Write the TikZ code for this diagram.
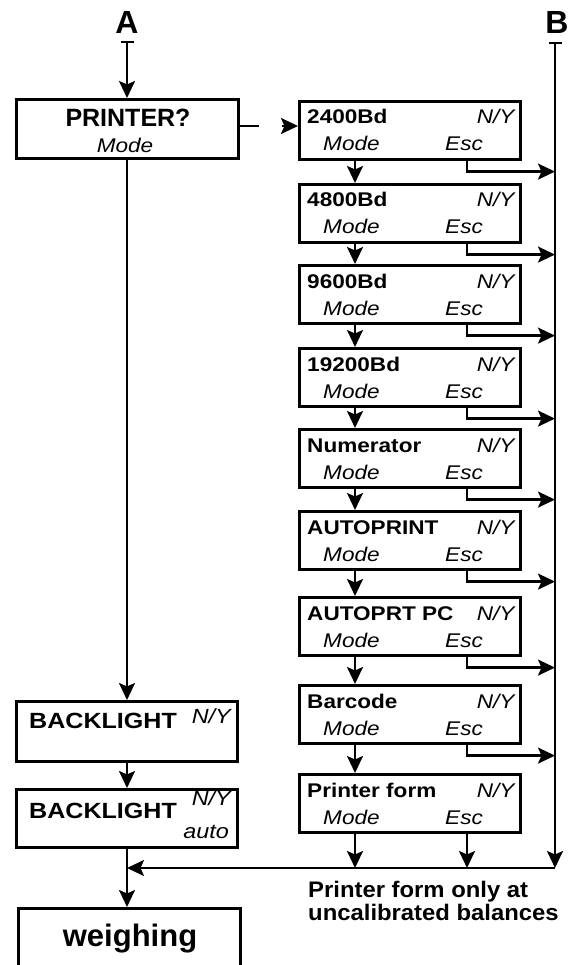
\documentclass[tikz,border=0pt]{standalone}
\usepackage{fontspec}
\setmainfont{Liberation Sans}
\newfontfamily\wf[FakeStretch=1.14]{Liberation Sans}
\newfontfamily\nf[FakeStretch=1.06]{Liberation Sans}
\usetikzlibrary{arrows.meta,calc}
\newcommand\rbox[3]{%
  \node[box,anchor=north west] (#1) at (298,#2) {};
  \node[bl,anchor=base west] (#1l) at ($(#1.north west)+(9,24)$) {#3};
  \node[it,anchor=base east] (#1n) at ($(#1.north east)+(-7,24)$) {N/Y};
  \node[it,anchor=base west] (#1m) at ($(#1.north west)+(25,51)$) {Mode};
  \node[it,anchor=base west] (#1e) at ($(#1.north west)+(147,51)$) {Esc};
}
\newcommand\esc[1]{%
  \coordinate (#1s) at ($(#1.south west)+(169,0)$);
  \coordinate (#1k) at ($(#1s)+(0,11)$);
  \draw[arr] (#1s) -- (#1k) -- (#1k -| Btop);
}
\newcommand\down[2]{%
  \draw[arr] ($(#1.south west)+(57,0)$) -- ($(#2.north west)+(57,0)$);
}
\begin{document}
\begin{tikzpicture}[x=1pt,y=-1pt,
  box/.style={draw,line width=2.6pt,inner sep=0pt,minimum width=221pt,minimum height=58pt},
  bl/.style={font=\wf\bfseries\fontsize{19.8}{21}\selectfont,inner sep=0pt},
  it/.style={font=\wf\itshape\fontsize{19.8}{21}\selectfont,inner sep=0pt},
  ln/.style={line width=2.3pt},
  arr/.style={ln,-{Stealth[length=17pt,width=16pt,inset=3.5pt]}},
  bararr/.style={ln,{Bar[width=13pt,line width=2.3pt]}-{Stealth[length=17pt,width=16pt,inset=3.5pt]}}
]
\useasboundingbox (0,0) rectangle (574,965);
% labels A and B
\node[font=\bfseries\fontsize{32}{32}\selectfont,inner sep=0pt] (A) at (127,22) {A};
\node[font=\bfseries\fontsize{32}{32}\selectfont,inner sep=0pt] (B) at (557,22) {B};
\coordinate (Atop) at (127,41);
\coordinate (Btop) at (555,42);
\coordinate (Bbot) at (555,868);
% PRINTER box
\node[box,minimum width=222pt,minimum height=59pt,anchor=north west] (P) at (15,98) {};
\node[font=\bfseries\fontsize{25}{25}\selectfont,inner sep=0pt,anchor=base] (Pt) at (128,127) {PRINTER?};
\node[it,anchor=base] (Pm) at (125,153) {Mode};
% right column
\rbox{b1}{100}{2400Bd}
\rbox{b2}{183}{4800Bd}
\rbox{b3}{264}{9600Bd}
\rbox{b4}{347}{19200Bd}
\rbox{b5}{428}{Numerator}
\rbox{b6}{510}{AUTOPRINT}
\rbox{b7}{596}{AUTOPRT PC}
\rbox{b8}{684}{Barcode}
\rbox{b9}{773}{Printer form}
% left column
\node[box,minimum width=221pt,minimum height=60pt,anchor=north west] (L1) at (15,700) {};
\node[font=\wf\bfseries\fontsize{22}{22}\selectfont,inner sep=0pt,anchor=base west] (L1t) at (29,728) {BACKLIGHT};
\node[font=\wf\itshape\fontsize{20.5}{21}\selectfont,inner sep=0pt,anchor=base east] (L1n) at (231,723) {N/Y};
\node[box,minimum width=221pt,minimum height=58pt,anchor=north west] (L2) at (15,788) {};
\node[font=\wf\bfseries\fontsize{22}{22}\selectfont,inner sep=0pt,anchor=base west] (L2t) at (29,818) {BACKLIGHT};
\node[font=\wf\itshape\fontsize{20.5}{21}\selectfont,inner sep=0pt,anchor=base east] (L2n) at (231,805) {N/Y};
\node[font=\wf\itshape\fontsize{20.5}{21}\selectfont,inner sep=0pt,anchor=base east] (L2a) at (229,838) {auto};
\node[box,minimum width=222pt,minimum height=62pt,anchor=north west] (W) at (17,907) {};
\node[font=\bfseries\fontsize{31}{31}\selectfont,inner sep=0pt,anchor=base] (Wt) at (130,946) {weighing};
% note
\node[font=\nf\bfseries\fontsize{22.5}{23}\selectfont,inner sep=0pt,anchor=base west] (note1) at (308,897) {Printer form only at};
\node[font=\nf\bfseries\fontsize{22.5}{23}\selectfont,inner sep=0pt,anchor=base west] (note2) at (308,920) {uncalibrated balances};
% connectors
\draw[bararr] (Atop) -- (Atop |- P.north);
\draw[bararr] (Btop) -- (Bbot);
\draw[arr,dash pattern=on 19pt off 23pt on 60pt] (P.east |- 0,126) -- (b1.west |- 0,126);
\draw[arr] (Atop |- P.south) -- (Atop |- L1.north);
\draw[arr] (Atop |- L1.south) -- (Atop |- L2.north);
\draw[arr] (Atop |- L2.south) -- (Atop |- W.north);
\draw[arr] (Bbot) -- (Bbot -| Atop);
\down{b1}{b2}
\down{b2}{b3}
\down{b3}{b4}
\down{b4}{b5}
\down{b5}{b6}
\down{b6}{b7}
\down{b7}{b8}
\down{b8}{b9}
\esc{b1}
\esc{b2}
\esc{b3}
\esc{b4}
\esc{b5}
\esc{b6}
\esc{b7}
\esc{b8}
\coordinate (b9s) at ($(b9.south west)+(57,0)$);
\coordinate (b9t) at ($(b9.south west)+(169,0)$);
\draw[arr] (b9s) -- (b9s |- Bbot);
\draw[arr] (b9t) -- (b9t |- Bbot);
\end{tikzpicture}
\end{document}
